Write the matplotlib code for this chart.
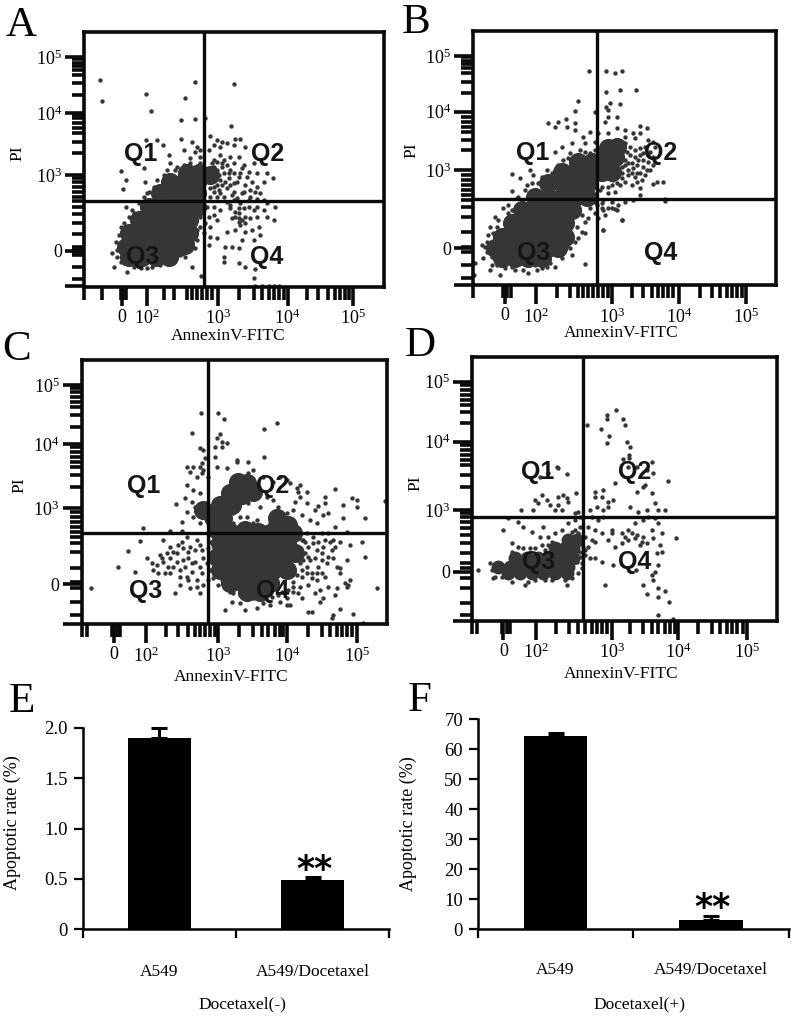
import matplotlib
matplotlib.use('Agg')
import matplotlib.pyplot as plt

plt.rcParams['font.family'] = ['Liberation Serif', 'DejaVu Sans']
plt.rcParams['mathtext.fontset'] = 'custom'
plt.rcParams['mathtext.rm'] = 'Liberation Serif'

W, H = 791, 1016
INK = '#363636'

# flow panels: values are display channels
a_core = [(385,230),(425,230),(465,230),(505,230),(375,260),(415,260),(455,260),(495,260),(535,260),(555,265),
          (385,300),(425,300),(465,300),(505,300),(545,300),(565,300),(415,340),(455,340),(495,340),(535,340),(565,340),
          (445,380),(485,380),(525,380),(565,380),(590,380),(480,420),(520,420),(560,420),(590,420),(510,455),(550,455),(590,455),
          (560,480),(595,480),(630,475)]
a_dots = [(297,760),(305,697),(437,719),(450,668),(583,754),(553,707),(700,748),(541,639),(583,642),(613,645),(693,622),
          (437,580),(470,580),(488,565),(541,582),(505,535),(360,488),(375,460),(367,432),(430,495),(432,453),(460,430),
          (575,575),(590,560),(600,550),(585,545),(570,525),(600,530),(550,550),(630,592),(650,580),(665,575),(640,565),(625,550),
          (660,560),(680,570),(705,582),(720,582),(700,565),(735,560),(690,530),(715,530),(660,535),(640,520),(670,520),(700,510),
          (730,505),(760,510),(745,485),(770,480),(800,480),(818,465),(790,455),(770,440),(740,470),(720,480),(690,490),(665,500),
          (650,490),(660,460),(685,465),(710,455),(735,445),(755,455),(680,435),(700,425),(725,420),(750,410),(770,402),(790,400),
          (800,390),(825,380),(790,370),(770,380),(745,380),(720,390),(700,400),(670,410),(650,410),(630,410),(640,380),(660,370),
          (690,375),(715,360),(735,350),(715,335),(750,345),(770,350),(800,350),(820,340),(775,320),(755,310),(735,305),(705,310),
          (680,305),(650,340),(625,350),(630,320),(630,290),(650,285),(625,265),(675,260),(695,260),(715,255),(725,280),(780,295),
          (760,280),(672,230),(672,215),(715,210),(735,200),(765,192),(762,165),(765,142),(785,142),(805,142),(820,142),(835,142),
          (603,172),(575,200),(555,230),(590,280),(340,200),(380,185),(420,195),(335,240),(350,230),(480,205),(370,210),(455,200),
          (520,220),(550,255),(580,295),(375,380),(400,360),(360,320),(345,275),(430,410),(470,460),(490,475),(510,510),(550,505),
          (565,495),(600,510),(640,500),(395,370),(440,420),(460,440),(500,490),(530,500),(715,345),(705,365),(725,340),(745,400),(660,420),
          (635,510),(650,515),(665,510),(680,505),(640,490),(655,475),(670,480),(685,480),(645,460),(665,445),(675,455),(700,450),(715,470),
          (730,425),(690,445),(640,440),(650,445),(630,435),(640,425),(655,430),(700,480),(725,495),(750,430),(765,425),(780,420),(710,405),
          (695,415),(680,395),(690,385),(715,375),(730,375),(705,350),(695,345),(720,325),(735,330),(760,370),(640,355),(620,380),(615,330),
          (600,320),(600,350),(610,300),(585,255),(575,270),(590,310),(350,250),(360,215),(400,200),(440,195),(500,215),(540,235),(355,295),
          (370,330),(385,350),(415,390),(445,425),(475,440),(525,490),(570,510)]
b_core = [(320,225),(360,225),(400,225),(440,225),(300,255),(340,255),(380,255),(420,255),(460,255),(490,255),
          (320,290),(360,290),(400,290),(440,290),(480,290),(510,290),(350,330),(390,330),(430,330),(470,330),(510,330),
          (380,370),(420,370),(460,370),(500,370),(530,370),(420,410),(460,410),(500,410),(540,410),(575,410),
          (460,450),(500,450),(540,450),(580,450),(500,485),(540,485),(580,485),(620,485),(650,485),
          (550,515),(590,515),(630,525),(660,530),(640,555),(665,560)]
b_dots = [(583,787),(632,786),(660,781),(682,786),(632,725),(675,730),(723,729),(632,680),(645,692),(675,688),(640,670),
          (550,696),(540,668),(600,665),(640,650),(665,648),(630,635),(458,632),(490,635),(512,643),(480,620),(515,620),
          (540,630),(540,610),(565,590),(585,605),(600,575),(570,570),(530,570),(500,560),(525,540),(480,545),(610,600),(640,600),
          (665,615),(690,610),(735,622),(755,615),(735,600),(715,600),(690,590),(720,585),(760,580),(775,575),(750,560),(780,560),
          (765,545),(745,540),(760,515),(745,500),(735,480),(755,490),(720,470),(700,490),(680,500),(710,510),(730,520),(705,535),
          (680,465),(660,480),(640,470),(710,445),(735,435),(785,455),(805,455),(775,448),(810,398),(640,440),(615,430),(625,400),
          (650,395),(670,385),(690,395),(715,400),(735,415),(660,425),(620,375),(640,375),(630,355),(660,372),(680,340),(625,310),
          (350,478),(375,465),(405,490),(415,475),(430,450),(440,470),(470,480),(350,428),(370,410),(390,430),(415,420),(300,350),
          (305,320),(295,300),(350,370),(340,360),(270,260),(265,225),(290,205),(315,175),(360,190),(400,180),(440,195),(480,200),
          (530,235),(570,207),(625,310),(680,340),(710,145),(240,210),(238,175),(236,145),(260,265),(275,275),(285,190),(330,195),
          (420,205),(465,210),(515,262),(550,285),(570,300),(545,320),(570,335),(585,375),(560,355),(600,360),(620,390),(625,370),
          (650,375),(665,370),(600,395),(575,430),(560,435),(590,440),(620,440),(640,420),(810,402),
          (690,570),(705,560),(720,550),(735,555),(695,545),(680,530),(690,520),(715,495),(725,505),(700,475),(690,455),(675,445),(665,450),
          (650,445),(655,460),(725,455),(740,460),(750,475),(765,490),(775,505),(735,535),(720,530),(700,510),(670,520),(690,505),(710,480),
          (660,505),(645,505),(680,480),(725,480),(745,520),(760,535),(775,530),(600,550),(585,540),(570,545),(555,550),(520,525),(505,520),
          (490,505),(455,490),(445,465),(410,450),(395,445),(365,405),(340,385),(325,375),(310,340),(285,320),(280,295),(275,245),(290,230),
          (305,205),(350,200),(385,190),(425,190),(455,200),(500,225),(525,255),(540,275),(560,305),(580,345),(610,345),(605,385),(590,420)]
c_core = [(715,575),(740,570),(690,540),(725,535),(760,545),(660,505),(695,505),(640,470),(670,465),(610,490),
          (650,430),(690,425),(735,430),(775,425),(810,420),(850,435),(880,420),(830,465),(865,445),
          (660,390),(700,390),(740,390),(780,390),(820,390),(860,390),(650,350),(690,350),(730,350),(770,350),(810,350),(850,350),(885,360),
          (660,310),(700,310),(740,310),(780,310),(820,310),(860,310),(690,270),(730,270),(770,270),(810,270),(740,245),(780,245)]
c_dots = [(603,780),(653,780),(673,762),(830,750),(793,732),(575,720),(660,718),(650,705),(665,695),(680,690),(645,680),(665,680),
          (600,675),(610,670),(793,650),(615,645),(605,630),(645,650),(562,620),(580,620),(600,620),(570,605),(610,610),(590,590),
          (605,600),(710,635),(745,635),(650,620),(680,615),(760,610),(625,590),(560,565),(580,550),(600,540),(555,525),(575,515),
          (527,507),(585,500),(560,485),(545,455),(580,470),(600,450),(428,435),(510,428),(545,428),(420,398),(385,368),(355,320),
          (405,303),(272,255),(440,345),(490,400),(480,355),(470,325),(460,310),(510,380),(530,360),(520,320),(550,340),(570,380),
          (590,400),(605,370),(585,335),(605,300),(620,330),(560,290),(590,280),(540,265),(525,240),(600,240),(570,255),(545,395),
          (560,410),(510,345),(490,335),(540,310),(575,305),(495,300),
          (900,565),(920,545),(1005,553),(975,530),(955,503),(1030,505),(1055,525),(1070,500),(1070,520),(1155,518),(1095,465),(1030,465),
          (975,510),(945,490),(920,510),(900,530),(885,515),(905,475),(930,460),(950,450),(970,475),(985,480),(1005,440),(1040,425),
          (1085,395),(1050,385),(1000,400),(1020,395),(965,420),(985,420),(940,410),(920,420),(910,400),(915,360),(930,340),(950,370),
          (970,380),(985,350),(955,320),(935,300),(920,320),(905,290),(900,260),(925,265),(950,280),(975,290),(1020,315),(1040,340),
          (1020,300),(1035,270),(1050,280),(1095,350),(1130,255),(1045,265),(1010,255),(985,260),(960,250),(1005,235),(970,225),(945,240),
          (1000,175),(1020,192),(995,165),(1060,178),(1090,150),(925,185),(935,185),(960,215),(905,225),(880,245),(870,205),(840,215),
          (810,205),(790,210),(770,195),(735,190),(720,210),(695,215),(675,190),(700,240),(675,260),(655,265),(640,285),(845,245),(860,225),
          (880,275),(900,330),(890,420),(880,445),(860,480),(880,490),(835,500),(820,520),(800,530),(780,500),(770,460),(740,470),
          (760,450),(720,470),(700,450),(680,460),(730,440),(780,430),(810,450),(830,470),(745,510),(700,480),(665,435),(650,430),(690,420),
          (870,400),(895,430),(710,640),(745,600),(790,590),(840,590),(870,570),(860,580),(890,555),(895,545),(820,575),
          (915,395),(925,380),(940,390),(955,395),(975,400),(990,395),(1005,380),(995,370),(965,360),(945,345),(925,350),(910,340),(905,310),
          (920,300),(935,285),(890,295),(880,260),(865,250),(835,235),(815,230),(790,235),(760,225),(720,235),(690,245),(665,280),(645,300),
          (630,310),(635,345),(625,375),(630,395),(600,385),(585,370),(565,365),(550,375),(535,385),(520,365),(500,360),(485,345),(505,320),
          (530,335),(555,320),(565,345),(610,345),(600,320),(575,330),(540,290),(510,300),(475,300),(455,330),(625,280),(610,265),(590,260),
          (565,280),(905,400),(895,380),(905,360),(1040,260),(965,300),(1010,320),(980,330),(965,340),(1000,345),(950,300),(860,205),(895,240)]
d_core = [(310,320),(345,320),(380,320),(415,320),(450,320),(485,320),(520,320),(360,345),(395,345),(430,345),(465,345),(500,345),(535,345),
          (340,300),(375,300),(410,300),(445,300),(480,300),(515,300),(480,375),(510,375),(535,375),(520,400),(545,400)]
d_dots = [(662,790),(636,775),(636,762),(684,762),(690,745),(575,745),(617,732),(643,713),(637,692),(697,693),(705,680),(703,655),(703,645),
          (683,642),(770,635),(700,620),(725,620),(775,600),(755,610),(818,578),(660,570),(745,560),(725,545),(750,565),(770,540),
          (485,620),(490,615),(515,597),(460,600),(435,590),(440,535),(420,520),(430,510),(455,520),(465,505),(490,530),(505,535),(515,525),
          (543,540),(520,515),(500,490),(480,490),(490,505),(378,490),(415,490),(540,480),(550,485),(600,545),(625,550),(600,530),(620,530),
          (655,520),(640,515),(585,490),(605,500),(625,490),(640,500),(705,500),(730,485),(755,490),(780,510),(790,490),(810,490),(760,470),
          (780,465),(790,450),(770,430),(745,460),(720,450),(700,430),(650,430),(625,470),(610,460),(590,470),(580,440),(600,430),(620,420),
          (340,465),(325,430),(370,455),(385,440),(410,425),(445,440),(435,410),(460,410),(480,420),(500,430),(460,385),(405,375),(350,390),
          (370,380),(520,450),(540,460),(555,440),(555,470),(570,410),(590,400),(600,395),(585,345),(600,345),(620,335),(655,325),(680,420),
          (700,400),(720,405),(740,395),(755,390),(775,405),(800,420),(843,405),(795,385),(800,365),(785,360),(790,325),(780,305),(770,295),
          (722,310),(775,280),(745,265),(630,265),(516,265),(757,238),(790,255),(810,248),(790,230),(822,215),(790,175),(835,162),(250,310),
          (390,265),(295,285),(320,290),(420,280),(470,280),(530,285),(550,300),(560,330),(570,355),(580,380),(660,380),(680,390),(640,400),(650,420),
          (540,430),(550,420),(530,425),(560,400),(565,380),(555,365),(570,370),(285,330),(290,310),(300,290),(350,275),(400,275),(450,280),(510,280),
          (545,335),(555,350),(560,315),(350,365),(385,375),(420,375),(450,370),(470,395),(440,385),(725,415),(735,385),(745,410),(710,420),(690,410)]

# ticks in channels
a_xminor = [250,305,360,368,376,492,520,560,575,590,605,620,635,715,760,785,805,820,835,850,920,955,985,1005,1020,1035,1048]
a_xmajor = [365,438,652,862,1060]
a_yminor = [162,200,235,243,250,258,297,330,358,378,396,410,425,440,455,465,540,575,600,615,630,645,655,715,750,775,790,802,812,822]
a_ymajor = [142,248,475,660,828]
b_xminor = [235,325,335,348,485,525,550,565,580,595,610,625,640,710,745,770,790,805,820,835,915,950,975,995,1010,1025,1040]
b_xmajor = [330,422,650,852,1052]
b_yminor = [165,205,245,260,305,350,380,400,415,430,445,460,475,550,580,605,620,635,650,720,755,780,795,808,818,828]
b_ymajor = [145,255,490,665,832]
c_xminor = [245,260,335,350,360,497,535,565,585,600,615,630,645,718,760,785,805,825,840,850,925,965,990,1010,1025,1040,1055]
c_xmajor = [342,438,655,862,1072]
c_yminor = [175,215,255,275,315,365,390,410,425,440,455,470,485,560,595,620,635,650,665,678,740,775,800,815,830,845,855]
c_ymajor = [148,267,495,688,865]
d_xminor = [232,245,320,335,345,483,522,548,570,590,605,620,635,705,745,770,790,810,825,840,910,950,975,995,1010,1025,1045]
d_xmajor = [325,423,650,850,1057]
d_yminor = [175,210,255,285,315,330,360,390,415,435,455,470,480,560,595,625,640,655,670,685,750,785,805,820,835,850,865]
d_ymajor = [158,305,490,695,875]

x_labels = ['0', r'$\mathrm{10^{2}}$', r'$\mathrm{10^{3}}$', r'$\mathrm{10^{4}}$', r'$\mathrm{10^{5}}$']
y_labels = ['', '0', r'$\mathrm{10^{3}}$', r'$\mathrm{10^{4}}$', r'$\mathrm{10^{5}}$']

# bar panels
groups = ['A549', 'A549/Docetaxel']
e_rate = [1.9, 0.49]
e_err = [0.10, 0.03]
f_rate = [64.3, 3.0]
f_err = [1.2, 1.3]
e_yticks = [0, 0.5, 1.0, 1.5, 2.0]
e_yticklabels = ['0', '0.5', '1.0', '1.5', '2.0']
f_yticks = [0, 10, 20, 30, 40, 50, 60, 70]


def make_axes(ox, oy, zl, zr, zt, zb):
    # zl..zb are in 3x crop pixels, ox/oy is where that crop starts
    left = (ox + zl / 3) / W
    bottom = 1 - (oy + zb / 3) / H
    return plt.axes([left, bottom, (zr - zl) / 3 / W, (zb - zt) / 3 / H])


def flow_panel(ox, oy, box, vline, hline, core, core_s, dots, xminor, xmajor, yminor, ymajor, qpos, xlab, pilab):
    zl, zr, zt, zb = box
    ax = make_axes(ox, oy, zl, zr, zt, zb)
    ax.set_xlim(zl, zr)
    ax.set_ylim(1000 - zb, 1000 - zt)
    ax.scatter(*zip(*core), s=core_s, c=INK, linewidths=0, zorder=2)
    ax.scatter(*zip(*dots), s=10, c=INK, linewidths=0, zorder=2)
    ax.axvline(vline, color='#0a0a0a', lw=2.4, zorder=3)
    ax.axhline(1000 - hline, color='#0a0a0a', lw=2.4, zorder=3)
    for sp in ax.spines.values():
        sp.set_linewidth(2.6)
        sp.set_color('#0a0a0a')
    ax.set_xticks(xmajor, x_labels, fontsize=13)
    ax.set_yticks(ymajor, y_labels, fontsize=13)
    ax.set_xticks(xminor, minor=True)
    ax.set_yticks(yminor, minor=True)
    ax.tick_params(which='major', length=14, width=2.6, color='#0a0a0a', pad=2)
    ax.tick_params(which='minor', length=9, width=2.6, color='#0a0a0a')
    for name, (qx, qy) in zip(['Q1', 'Q2', 'Q3', 'Q4'], qpos):
        ax.text(qx, 1000 - qy, name, family='Liberation Sans', weight='bold', fontsize=18,
                color='#151515', ha='center', va='center', zorder=4)
    ax.text(xlab[0], 1000 - xlab[1], 'AnnexinV-FITC', fontsize=12.5, ha='center', va='center', clip_on=False)
    ax.text(pilab[0], 1000 - pilab[1], 'PI', fontsize=12.5, rotation=90, ha='center', va='center', clip_on=False)
    return ax


def bar_panel(ox, oy, box, rate, err, ymax, yticks, ylabels, star_pos, ylab_pos, cat_pos, group_label):
    zl, zr, zt, zb = box
    ax = make_axes(ox, oy, zl, zr, zt, zb)
    ax.set_xlim(0, 2)
    ax.set_ylim(0, ymax)
    ax.bar([0.5, 1.5], rate, width=0.41, color='black')
    ax.errorbar([0.5, 1.5], rate, yerr=[[0, 0], err], fmt='none', ecolor='black', elinewidth=2.2, capsize=6, capthick=2.2, clip_on=False)
    ax.spines['top'].set_visible(False)
    ax.spines['right'].set_visible(False)
    ax.spines['left'].set_linewidth(1.8)
    ax.spines['bottom'].set_linewidth(1.8)
    ax.set_xticks([0, 1, 2], ['', '', ''])
    ax.set_yticks(yticks, ylabels, fontsize=13.5)
    ax.tick_params(length=6.5, width=1.6, pad=4)
    ax.text(star_pos[0], star_pos[1], '**', family='DejaVu Sans', weight='bold', fontsize=25, ha='center', va='center')
    ax.text(ylab_pos[0], ylab_pos[1], 'Apoptotic rate (%)', transform=ax.transAxes, fontsize=13, rotation=90,
            ha='center', va='center', clip_on=False)
    for name, pos in zip(groups, cat_pos):
        ax.text(pos[0], pos[1], name, transform=ax.transAxes, fontsize=12.5, ha='center', va='center')
    ax.text(0.52, cat_pos[0][1] - 0.16, group_label, transform=ax.transAxes, fontsize=12.5, ha='center', va='center')
    return ax


fig = plt.figure(figsize=(W / 100, H / 100), dpi=100)

q_a = [(420, 463), (803, 463), (425, 770), (800, 770)]
q_b = [(412, 458), (797, 458), (417, 760), (797, 760)]
q_c = [(432, 437), (817, 437), (437, 753), (817, 753)]
q_d = [(427, 397), (720, 397), (432, 667), (720, 667)]

flow_panel(0, 0, (252, 1152, 97, 860), 610, 603, a_core, 190, a_dots, a_xminor, a_xmajor, a_yminor, a_ymajor, q_a, (682, 1008), (50, 460))
flow_panel(395, 0, (235, 1143, 93, 855), 605, 597, b_core, 190, b_dots, b_xminor, b_xmajor, b_yminor, b_ymajor, q_b, (678, 998), (50, 450))
flow_panel(0, 340, (245, 1160, 60, 852), 625, 580, c_core, 190, c_dots, c_xminor, c_xmajor, c_yminor, c_ymajor, q_c, (692, 1010), (58, 435))
flow_panel(395, 340, (232, 1145, 50, 842), 565, 530, d_core, 100, d_dots, d_xminor, d_xmajor, d_yminor, d_ymajor, q_d, (678, 1002), (62, 430))

bar_panel(0, 680, (248, 1168, 143, 748), e_rate, e_err, 2.0, e_yticks, e_yticklabels, (1.51, 0.59), (-0.23, 0.53),
          [(0.25, -0.21), (0.75, -0.21)], 'Docetaxel(-)')
bar_panel(395, 680, (248, 1182, 117, 748), f_rate, f_err, 70, f_yticks, [str(v) for v in f_yticks], (1.51, 7), (-0.224, 0.504),
          [(0.25, -0.195), (0.75, -0.195)], 'Docetaxel(+)')

for letter, x, y in [('A', 6, 36), ('B', 402, 33), ('C', 2, 360), ('D', 405, 356), ('E', 9, 712), ('F', 408, 711)]:
    fig.text(x / W, 1 - y / H, letter, fontsize=31, ha='left', va='baseline')

fig.savefig('out.png', dpi=100)
